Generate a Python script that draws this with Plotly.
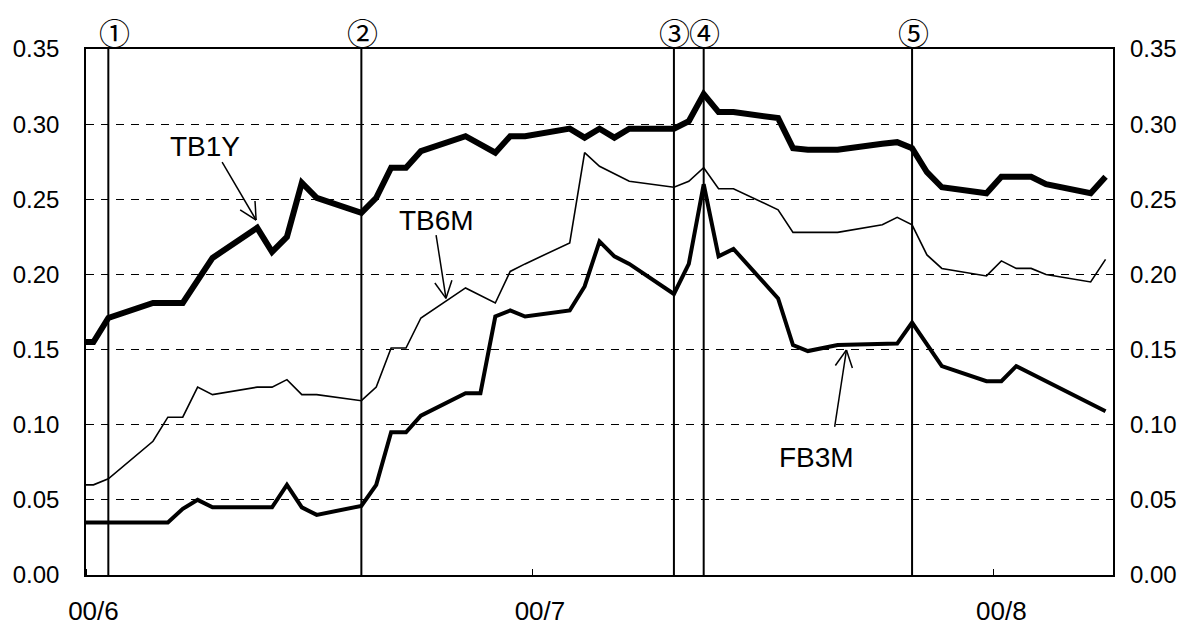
import math
import pandas as pd
import plotly.graph_objects as go

dates = ["2000-05-31", "2000-06-01", "2000-06-02", "2000-06-05", "2000-06-06", "2000-06-07",
         "2000-06-08", "2000-06-09", "2000-06-12", "2000-06-13", "2000-06-14", "2000-06-15",
         "2000-06-16", "2000-06-19", "2000-06-20", "2000-06-21", "2000-06-22", "2000-06-23",
         "2000-06-26", "2000-06-27", "2000-06-28", "2000-06-29", "2000-06-30", "2000-07-03",
         "2000-07-04", "2000-07-05", "2000-07-06", "2000-07-07", "2000-07-10", "2000-07-11",
         "2000-07-12", "2000-07-13", "2000-07-14", "2000-07-17", "2000-07-18", "2000-07-19",
         "2000-07-21", "2000-07-24", "2000-07-25", "2000-07-26", "2000-07-27", "2000-07-28",
         "2000-07-31", "2000-08-01", "2000-08-02", "2000-08-03", "2000-08-04", "2000-08-07",
         "2000-08-08"]

tb1y = [0.155, 0.155, 0.171, 0.181, 0.181, 0.181, 0.196, 0.211, 0.231, 0.215, 0.225, 0.261,
        0.251, 0.241, 0.251, 0.271, 0.271, 0.282, 0.292, 0.287, 0.281, 0.292, 0.292, 0.297,
        0.291, 0.297, 0.291, 0.297, 0.297, 0.302, 0.320, 0.308, 0.308, 0.304, 0.284, 0.283,
        0.283, 0.287, 0.288, 0.284, 0.268, 0.258, 0.254, 0.265, 0.265, 0.265, 0.260, 0.254,
        0.265]

tb6m = [0.060, 0.060, 0.064, 0.089, 0.105, 0.105, 0.125, 0.120, 0.125, 0.125, 0.130, 0.120,
        0.120, 0.116, 0.125, 0.151, 0.151, 0.171, 0.191, 0.186, 0.181, 0.202, 0.207, 0.221,
        0.281, 0.272, 0.267, 0.262, 0.258, 0.262, 0.271, 0.257, 0.257, 0.243, 0.228, 0.228,
        0.228, 0.233, 0.238, 0.233, 0.213, 0.204, 0.199, 0.209, 0.204, 0.204, 0.200, 0.195,
        0.210]

fb3m = [0.035, 0.035, 0.035, 0.035, 0.035, 0.044, 0.050, 0.045, 0.045, 0.045, 0.060, 0.045,
        0.040, 0.046, 0.060, 0.095, 0.095, 0.106, 0.121, 0.121, 0.172, 0.176, 0.172, 0.176,
        0.192, 0.222, 0.212, 0.207, 0.187, 0.207, 0.260, 0.212, 0.217, 0.184, 0.153, 0.149,
        0.153, 0.154, 0.154, 0.168, 0.153, 0.139, 0.129, 0.129, 0.139, 0.134, 0.129, 0.114,
        0.109]

event_dates = ["2000-06-02", "2000-06-19", "2000-07-10", "2000-07-12", "2000-07-26"]
event_labels = ["①", "②", "③", "④", "⑤"]

month_starts = ["2000-06-01", "2000-07-01", "2000-08-01"]
month_labels = ["00/6", "00/7", "00/8"]

y_ticks = [0.00, 0.05, 0.10, 0.15, 0.20, 0.25, 0.30, 0.35]

# series label annotations: (text, label x, label y, arrow tail x, tail y, arrow tip x, tip y)
series_labels = [
    ("TB1Y", "2000-06-09 00:00", 0.285, "2000-06-10 03:30", 0.2748, "2000-06-12 10:20", 0.2362),
    ("TB6M", "2000-06-24 13:40", 0.2362, "2000-06-24 12:30", 0.2262, "2000-06-25 04:30", 0.1841),
    ("FB3M", "2000-07-20 02:10", 0.0785, "2000-07-21 07:10", 0.0985, "2000-07-22 02:10", 0.1497),
]

X_RANGE = ["2000-06-01", "2000-08-09"]
Y_RANGE = [0, 0.35]
W, H = 1187, 625
ML, MR, MT, MB = 86, 74, 49, 50

half_day = pd.Timedelta(hours=12)
x = pd.to_datetime(dates) + half_day
ev_x = pd.to_datetime(event_dates) + half_day
tick_x = pd.to_datetime(month_starts) + half_day

FONT = "Liberation Sans, Arial, sans-serif"

# pixel scale helpers (for drawing open arrowheads of fixed pixel size)
t0 = pd.Timestamp(X_RANGE[0])
days_span = (pd.Timestamp(X_RANGE[1]) - t0).total_seconds() / 86400
px_per_day = (W - ML - MR) / days_span
px_per_val = (H - MT - MB) / (Y_RANGE[1] - Y_RANGE[0])


def to_px(t, v):
    return ((pd.Timestamp(t) - t0).total_seconds() / 86400 * px_per_day, v * px_per_val)


def from_px(px, py):
    return t0 + pd.Timedelta(days=px / px_per_day), py / px_per_val


fig = go.Figure()
fig.add_trace(go.Scatter(x=x, y=tb6m, mode="lines", name="TB6M",
                         line=dict(color="black", width=1.6), showlegend=False))
fig.add_trace(go.Scatter(x=x, y=fb3m, mode="lines", name="FB3M",
                         line=dict(color="black", width=4), showlegend=False))
fig.add_trace(go.Scatter(x=x, y=tb1y, mode="lines", name="TB1Y",
                         line=dict(color="black", width=6), showlegend=False))
fig.add_trace(go.Scatter(x=x, y=fb3m, mode="lines", yaxis="y2", hoverinfo="skip",
                         line=dict(color="rgba(0,0,0,0)", width=0), showlegend=False))

for d in ev_x:
    fig.add_shape(type="line", xref="x", yref="paper", x0=d, x1=d, y0=0, y1=1,
                  line=dict(color="black", width=2))

annotations = []
plot_h = H - MT - MB
for i, (d, lab) in enumerate(zip(ev_x, event_labels)):
    annotations.append(dict(x=d, y=1 + 17 / plot_h, xref="x", yref="paper", text=lab,
                            showarrow=False, yanchor="middle", xshift=6 if i == 0 else 1,
                            font=dict(family="Noto Sans CJK JP", size=31, color="black")))

ARM_LEN = 19
ARM_ANG = math.radians(27)
for text, lx, ly, tx, ty, hx, hy in series_labels:
    annotations.append(dict(x=lx, y=ly, xref="x", yref="y", text=text, showarrow=False,
                            font=dict(family=FONT, size=28, color="black")))
    fig.add_shape(type="line", xref="x", yref="y", x0=tx, y0=ty, x1=hx, y1=hy,
                  line=dict(color="black", width=1.5))
    hpx, hpy = to_px(hx, hy)
    tpx, tpy = to_px(tx, ty)
    ux, uy = tpx - hpx, tpy - hpy
    n = math.hypot(ux, uy)
    ux, uy = ux / n, uy / n
    for s in (1, -1):
        ca, sa = math.cos(s * ARM_ANG), math.sin(s * ARM_ANG)
        ax_ = hpx + ARM_LEN * (ux * ca - uy * sa)
        ay_ = hpy + ARM_LEN * (ux * sa + uy * ca)
        et, ev = from_px(ax_, ay_)
        fig.add_shape(type="line", xref="x", yref="y", x0=et, y0=ev, x1=hx, y1=hy,
                      line=dict(color="black", width=1.5))

fig.update_layout(
    width=W, height=H,
    margin=dict(l=ML, r=MR, t=MT, b=MB),
    paper_bgcolor="white", plot_bgcolor="white",
    font=dict(family=FONT, size=24, color="black"),
    annotations=annotations,
    xaxis=dict(type="date", range=X_RANGE, automargin=False,
               tickvals=list(tick_x), ticktext=month_labels, ticks="",
               ticklabelstandoff=12, showgrid=False, zeroline=False,
               showline=True, mirror=True, linecolor="black", linewidth=1.5,
               tickfont=dict(size=26),
               minor=dict(tickvals=month_starts, ticks="inside", ticklen=6,
                          tickcolor="black", tickwidth=1, showgrid=False)),
    yaxis=dict(range=Y_RANGE, tickvals=y_ticks, tickformat=".2f", ticks="", automargin=False,
               showgrid=True, gridcolor="black", gridwidth=1, griddash="8px,7px",
               zeroline=False, showline=True, mirror=True, linecolor="black", linewidth=1.5,
               ticklabelstandoff=20, tickfont=dict(size=24)),
    yaxis2=dict(range=Y_RANGE, tickvals=y_ticks, tickformat=".2f", ticks="", automargin=False,
                overlaying="y", side="right", showgrid=False, zeroline=False,
                showline=False, ticklabelstandoff=16, tickfont=dict(size=24)),
)

fig.write_html("out.html", config={"displayModeBar": False},
               post_script="document.body.style.margin='0';document.body.style.overflow='hidden';")
